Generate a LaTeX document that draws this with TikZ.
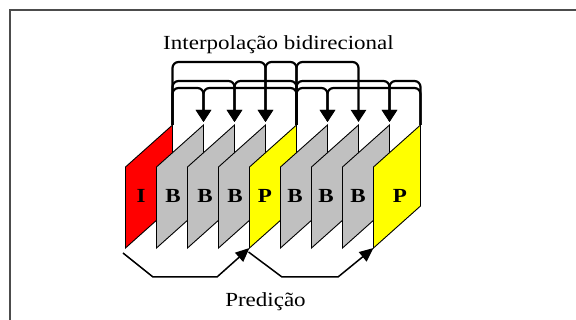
\documentclass[tikz,border=0pt]{standalone}
\usepackage{fontspec}
\setmainfont{Liberation Serif}
\usetikzlibrary{arrows.meta}
\definecolor{iframe}{RGB}{255,0,0}
\definecolor{bframe}{RGB}{192,192,192}
\definecolor{pframe}{RGB}{255,255,0}
\tikzset{
  gopframe/.style={draw=black, line width=0.9pt, line join=miter},
  wire/.style={draw=black, line width=2.2pt, rounded corners=6pt},
  wirearrow/.style={wire, -{Triangle[length=12pt,width=15pt]}},
  predarrow/.style={draw=black, line width=1.5pt, -{Triangle[length=14pt,width=12pt]}},
  framelabel/.style={font=\bfseries\fontsize{20}{20}\selectfont, anchor=base, inner sep=0pt},
  caption/.style={font=\fontsize{20}{20}\selectfont, anchor=base, inner sep=0pt},
}
% bracket wire from the top of frame #1 over level #3 down onto frame #2
\newcommand\gopwire[3]{%
  \draw[wirearrow] (#1-tr) -- (#1-tr |- 0,#3) -- (#2-tr |- 0,#3) -- ([yshift=3pt]#2-tr);%
}
\begin{document}
\begin{tikzpicture}[x=1pt,y=-1pt]
\useasboundingbox (0,0) rectangle (576,320);
\fill[white] (0,0) rectangle (576,320);
\draw[line width=1.4pt, black!70] (10,320) -- (10,10) -- (576,10);

% the nine frames of the group, drawn back to front
\foreach \name/\L/\col/\lab/\dx in {
  f1/125.5/iframe/I/15.5,
  f2/156.5/bframe/B/16.5,
  f3/187.5/bframe/B/17.5,
  f4/218.5/bframe/B/16.5,
  f5/249.5/pframe/P/15.5,
  f6/280.5/bframe/B/14.5,
  f7/311.5/bframe/B/14.5,
  f8/342.5/bframe/B/15.5,
  f9/373.5/pframe/P/26.5}{
  \coordinate (\name-tl) at (\L,167);
  \coordinate (\name-bl) at (\L,248);
  \coordinate (\name-br) at (\L+47,206);
  \coordinate (\name-tr) at (\L+47,125);
  \draw[gopframe, fill=\col] (\name-tl) -- (\name-bl) -- (\name-br) -- (\name-tr) -- cycle;
  \node[framelabel] (\name-lab) at (\L+\dx,203) {\scalebox{1.15}[1]{\lab}};
}

% bidirectional interpolation wires
\gopwire{f1}{f4}{62}
\gopwire{f5}{f4}{62}
\gopwire{f5}{f7}{62}
\gopwire{f1}{f3}{81}
\gopwire{f5}{f3}{81}
\gopwire{f5}{f8}{81}
\gopwire{f9}{f8}{81}
\gopwire{f1}{f2}{88}
\gopwire{f5}{f2}{88}
\gopwire{f5}{f6}{88}
\gopwire{f9}{f6}{88}

% forward prediction
\draw[predarrow] ([shift={(-2.5,5)}]f1-bl) -- (153,277) -- (217,277) -- (f5-bl);
\draw[predarrow] ([shift={(-1,4)}]f5-bl) -- (282,277) -- (338,277) -- (f9-bl);

\node[caption] (title) at (278.5,49.5) {\scalebox{1.15}[1]{Interpolação bidirecional}};
\node[caption] (pred) at (265.5,307) {\scalebox{1.15}[1]{Predição}};
\end{tikzpicture}
\end{document}
